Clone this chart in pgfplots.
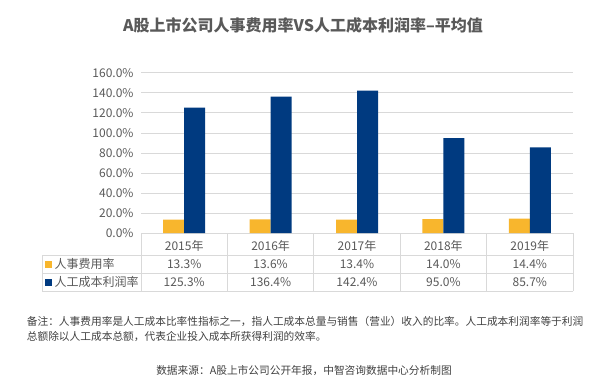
\documentclass[border=0pt]{standalone}
\usepackage{fontspec}
\setmainfont{Noto Sans CJK SC}
\usepackage{pgfplots}
\pgfplotsset{compat=1.18}
\definecolor{cOrange}{HTML}{F8B62D}
\definecolor{cBlue}{HTML}{003A80}
\definecolor{cGrid}{HTML}{D9D9D9}
\definecolor{cText}{HTML}{595959}
\definecolor{cNote}{HTML}{404040}
\begin{document}
\begin{tikzpicture}[x=1bp,y=1bp]
\useasboundingbox (0,0) rectangle (600,383);
\begin{axis}[
  at={(141bp,150bp)}, anchor=south west,
  scale only axis, width=432bp, height=160bp,
  xmin=-0.5, xmax=4.5, ymin=0, ymax=160,
  ybar=0pt, bar width=21bp,
  xtick=\empty,
  ytick={0,20,...,160},
  yticklabel={\pgfmathprintnumber[fixed,fixed zerofill,precision=1]{\tick}\%},
  /pgf/number format/assume math mode=true,
  ymajorgrids, major grid style={cGrid, line width=1bp},
  axis line style={draw=none},
  major tick length=0pt,
  ticklabel style={font=\fontsize{12bp}{14bp}\selectfont, text=cText},
  yticklabel style={xshift=-4bp},
  clip=false,
]
\addplot[fill=cOrange, draw=none] coordinates {(0,13.3) (1,13.6) (2,13.4) (3,14.0) (4,14.4)};
\addplot[fill=cBlue, draw=none] coordinates {(0,125.3) (1,136.4) (2,142.4) (3,95.0) (4,85.7)};
\end{axis}
% table lines
\begin{scope}[cGrid, line width=1bp]
  \draw (42.3,128) -- (573,128);
  \draw (42.3,109.7) -- (573,109.7);
  \draw (42.3,92) -- (573,92);
  \draw (42.3,128) -- (42.3,92);
  \foreach \xx in {141,227.4,313.8,400.2,486.6,573} {\draw (\xx,149.7) -- (\xx,92);}
\end{scope}
% table text
\begin{scope}[every node/.style={font=\fontsize{12bp}{14bp}\selectfont, text=cText, inner sep=0pt}]
  \foreach \yr [count=\i from 0] in {2015,2016,2017,2018,2019}
    {\node at ({141+86.4*(\i+0.5)},137.5) {\yr 年};}
  \foreach \v [count=\i from 0] in {13.3,13.6,13.4,14.0,14.4}
    {\node at ({141+86.4*(\i+0.5)},119) {\v\%};}
  \foreach \v [count=\i from 0] in {125.3,136.4,142.4,95.0,85.7}
    {\node at ({141+86.4*(\i+0.5)},100.7) {\v\%};}
  \fill[cOrange] (45,115.5) rectangle (52,122.5);
  \fill[cBlue] (45,97.2) rectangle (52,104.2);
  \node[anchor=west] at (54.5,119) {人事费用率};
  \node[anchor=west] at (54.5,100.7) {人工成本利润率};
\end{scope}
% title
\node[font=\fontsize{16bp}{18bp}\selectfont\bfseries, text=cText, inner sep=0pt] at (303,358) {A股上市公司人事费用率VS人工成本利润率–平均值};
% notes
\begin{scope}[every node/.style={font=\fontsize{10.7bp}{13bp}\selectfont, text=cNote, inner sep=0pt}]
  \node[anchor=west] at (26.7,62) {备注：人事费用率是人工成本比率性指标之一，指人工成本总量与销售（营业）收入的比率。人工成本利润率等于利润};
  \node[anchor=west] at (26.7,46.3) {总额除以人工成本总额，代表企业投入成本所获得利润的效率。};
  \node at (304,12) {数据来源：A股上市公司公开年报，中智咨询数据中心分析制图};
\end{scope}
\end{tikzpicture}
\end{document}
